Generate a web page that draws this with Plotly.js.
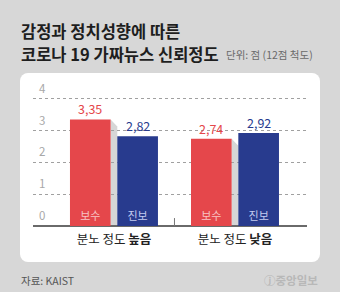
<!DOCTYPE html>
<html>
<head>
<meta charset="utf-8">
<script src="https://cdn.plot.ly/plotly-3.0.1.min.js"></script>
<style>
  html, body { margin: 0; padding: 0; background: #d7d7d7; }
  #wrap { position: relative; width: 340px; height: 292px; overflow: hidden; }
  #card { position: absolute; left: 20px; top: 73px; width: 300px; height: 189px;
          background: #ffffff; border-radius: 8px; }
  #chart { position: absolute; left: 0; top: 0; width: 340px; height: 292px; }
</style>
</head>
<body>
<div id="wrap">
  <div id="card"></div>
  <div id="chart"></div>
</div>
<script>
// Groups (anger level) and their axis labels
const groups = ['high', 'low'];
const groupLabels = ['분노 정도 <b>높음</b>', '분노 정도 <b>낮음</b>'];

// Trust in COVID-19 fake news (12-point scale)
const conservative = [3.35, 2.74];
const progressive = [2.82, 2.92];
const seriesNames = ['보수', '진보'];

const yTicks = [0, 1, 2, 3, 4];

const RED = '#e5474b';
const BLUE = '#283b8e';
const FONT = 'Noto Sans CJK KR, Noto Sans, sans-serif';

// plot area in pixels, used to place the page texts
const M = { l: 33, r: 33, t: 86, b: 66 };
const plotW = 340 - M.l - M.r;
const plotH = 292 - M.t - M.b;
const px = x => (x - M.l) / plotW;
const py = y => (292 - M.b - y) / plotH;

// bar geometry in category units
const barW = 0.336;
const gapU = 0.055;
const offRed = -(barW + gapU / 2);
const offBlue = gapU / 2;

const fmt = v => v.toFixed(2).replace('.', ',');

const traces = [
  {
    type: 'bar', x: groups, y: conservative, name: seriesNames[0],
    width: barW, offset: offRed,
    marker: { color: RED },
    text: groups.map(() => seriesNames[0]),
    textposition: 'inside', insidetextanchor: 'start', textangle: 0,
    constraintext: 'none',
    insidetextfont: { family: FONT, size: 11, color: '#f8c4c4' },
    hoverinfo: 'skip'
  },
  {
    type: 'bar', x: groups, y: progressive, name: seriesNames[1],
    width: barW, offset: offBlue,
    marker: { color: BLUE },
    text: groups.map(() => seriesNames[1]),
    textposition: 'inside', insidetextanchor: 'start', textangle: 0,
    constraintext: 'none',
    insidetextfont: { family: FONT, size: 11, color: '#c3cbf0' },
    hoverinfo: 'skip'
  }
];

const annotations = [];

// y tick labels sit just above their grid lines
yTicks.forEach(t => {
  annotations.push({
    xref: 'paper', yref: 'y', x: px(37), y: t, xanchor: 'left', yanchor: 'bottom',
    yshift: 1, text: String(t), showarrow: false,
    font: { family: FONT, size: 11.5, color: '#a8a8a8' }
  });
});

// value labels above each bar
groups.forEach((g, i) => {
  annotations.push({
    x: i + offRed + barW / 2, y: conservative[i], xref: 'x', yref: 'y',
    text: fmt(conservative[i]), showarrow: false, yanchor: 'bottom', yshift: -1,
    font: { family: FONT, size: 12.5, color: RED }
  });
  annotations.push({
    x: i + offBlue + barW / 2, y: progressive[i], xref: 'x', yref: 'y',
    text: fmt(progressive[i]), showarrow: false, yanchor: 'bottom', yshift: -1,
    font: { family: FONT, size: 12.5, color: BLUE }
  });
});

// headings and footer
annotations.push(
  { xref: 'paper', yref: 'paper', x: px(19), y: py(31), xanchor: 'left', yanchor: 'middle', align: 'left',
    text: '감정과 정치성향에 따른', showarrow: false,
    font: { family: FONT, size: 16.5, color: '#1e1e1e', weight: 700 } },
  { xref: 'paper', yref: 'paper', x: px(19), y: py(54), xanchor: 'left', yanchor: 'middle', align: 'left',
    text: '코로나 19 가짜뉴스 신뢰정도', showarrow: false,
    font: { family: FONT, size: 16.5, color: '#1e1e1e', weight: 700 } },
  { xref: 'paper', yref: 'paper', x: px(224), y: py(55), xanchor: 'left', yanchor: 'middle', align: 'left',
    text: '단위: 점 (12점 척도)', showarrow: false,
    font: { family: FONT, size: 10.5, color: '#6a6a6a' } },
  { xref: 'paper', yref: 'paper', x: px(19), y: py(280), xanchor: 'left', yanchor: 'middle', align: 'left',
    text: '자료: KAIST', showarrow: false,
    font: { family: FONT, size: 10.5, color: '#555555' } },
  { xref: 'paper', yref: 'paper', x: px(320), y: py(280), xanchor: 'right', yanchor: 'middle', align: 'right',
    text: 'ⓙ중앙일보', showarrow: false,
    font: { family: FONT, size: 11.5, color: '#b8b8b8', weight: 700 } }
);

// soft shading between neighbouring bars, following the red bar top
const shapes = [];
groups.forEach((g, i) => {
  const x1 = i + offRed + barW;
  const x2 = i + offBlue;
  const top = conservative[i];
  const drop = 0.22;
  shapes.push({
    type: 'path', xref: 'x', yref: 'y', layer: 'below',
    path: `M ${x1},${top} L ${x2},${top - drop} L ${x2},0 L ${x1},0 Z`,
    fillcolor: '#d6d6d6', line: { width: 0 }
  });
});
// divider tick between groups
shapes.push({
  type: 'line', xref: 'x', yref: 'y', x0: 0.5, x1: 0.5, y0: 0, y1: 0.25,
  line: { color: '#777777', width: 1 }
});

const layout = {
  width: 340, height: 292,
  margin: { l: M.l, r: M.r, t: M.t, b: M.b, pad: 0 },
  paper_bgcolor: 'rgba(0,0,0,0)',
  plot_bgcolor: 'rgba(0,0,0,0)',
  showlegend: false,
  barmode: 'overlay',
  font: { family: FONT },
  xaxis: {
    type: 'category', range: [-0.669, 1.595],
    tickvals: groups, ticktext: groupLabels,
    ticks: '', showgrid: false, showline: false, zeroline: false,
    tickfont: { family: FONT, size: 12.5, color: '#222222' },
    ticklabelstandoff: 4,
    fixedrange: true
  },
  yaxis: {
    range: [0, 4.4], tickvals: yTicks, showticklabels: false,
    showgrid: true, gridcolor: '#a0a0a0', gridwidth: 1, griddash: 'dot',
    zeroline: true, zerolinecolor: '#6a6a6a', zerolinewidth: 1.5,
    showline: false, ticks: '',
    fixedrange: true
  },
  annotations: annotations,
  shapes: shapes
};

Plotly.newPlot('chart', traces, layout, { displayModeBar: false, staticPlot: true });
</script>
</body>
</html>
